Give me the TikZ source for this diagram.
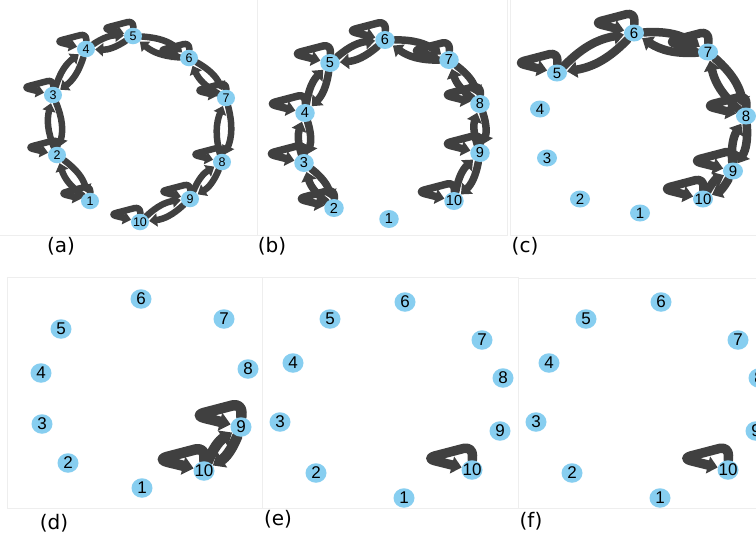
\documentclass[tikz,border=0pt]{standalone}
\usepackage{fontspec}
\setmainfont{Liberation Sans}
\newfontfamily\panelfont{DejaVu Sans}
\usetikzlibrary{arrows.meta,shapes.geometric}
\definecolor{nodeblue}{RGB}{135,206,240}
\definecolor{edgegray}{RGB}{64,64,64}
\definecolor{framegray}{RGB}{238,238,238}
\pgfdeclarelayer{bg}
\pgfdeclarelayer{edges}
\pgfsetlayers{bg,edges,main}

% vertex: style, name, x, y (pixels, downwards), label
\newcommand\putvertex[5]{%
  \node[#1] (#2) at (#3,-#4) {};
  \node[#1 text] at (#2.center) {#5};}
% self loop drawn as a flag: up from the vertex, out to a tip, back in
% args: node, direction of the tip, size, style
\newcommand\selfloop[4]{%
  \draw[#4, rounded corners={0.2*#3}] (#1) -- +({#2-78}:{0.5*#3})
     -- +(#2:{#3}) -- (#1);}

\tikzset{
  vbase/.style={ellipse, fill=nodeblue, inner sep=0pt},
  vA/.style={vbase, minimum width=18pt, minimum height=16.5pt},
  vA text/.style={font=\fontsize{12.5}{12.5}\selectfont, inner sep=0pt},
  vB/.style={vbase, minimum width=19.5pt, minimum height=18pt},
  vB text/.style={font=\fontsize{14.5}{14.5}\selectfont, inner sep=0pt},
  vC/.style={vbase, minimum width=20pt, minimum height=17pt},
  vC text/.style={font=\fontsize{15}{15}\selectfont, inner sep=0pt},
  vD/.style={vbase, minimum width=21pt, minimum height=19.5pt},
  vD text/.style={font=\fontsize{17}{17}\selectfont, inner sep=0pt},
  ebase/.style={draw=edgegray, line cap=round, line join=round},
  eA/.style={ebase, line width=6.5pt, -{Triangle[length=8pt,width=13pt]}},
  eB/.style={ebase, line width=7.5pt, -{Triangle[length=9pt,width=15pt]}},
  eC/.style={ebase, line width=8.5pt, -{Triangle[length=10pt,width=16pt]}},
  eD/.style={ebase, line width=10.5pt, -{Triangle[length=11pt,width=18pt]}},
  eE/.style={ebase, line width=9.5pt, -{Triangle[length=10pt,width=17pt]}},
  frame/.style={draw=framegray, line width=0.8pt},
  paneltag/.style={font=\panelfont\fontsize{20}{20}\selectfont, inner sep=0pt},
}

\begin{document}
\begin{tikzpicture}[x=1pt,y=1pt]
\useasboundingbox (0,0) rectangle (756,-536);
\begin{pgfonlayer}{bg}
  \fill[white] (0,0) rectangle (756,-536);
  \draw[frame] (-1,1) rectangle (257,-235);
  \draw[frame] (257,1) rectangle (507,-235);
  \draw[frame] (510,1) rectangle (760,-235);
  \draw[frame] (7,-277) rectangle (262,-508);
  \draw[frame] (262,-277) rectangle (518,-508);
  \draw[frame] (518,-278) rectangle (760,-508);
\end{pgfonlayer}

% ---------- (a)
\putvertex{vA}{a1}{90}{201}{1}
\putvertex{vA}{a2}{57}{155}{2}
\putvertex{vA}{a3}{53}{95}{3}
\putvertex{vA}{a4}{86}{49}{4}
\putvertex{vA}{a5}{133}{36}{5}
\putvertex{vA}{a6}{189}{58}{6}
\putvertex{vA}{a7}{226}{98}{7}
\putvertex{vA}{a8}{222}{162}{8}
\putvertex{vA}{a9}{190}{199}{9}
\putvertex{vA}{a10}{140}{222}{10}

% ---------- (b)
\putvertex{vB}{b1}{389}{219}{1}
\putvertex{vB}{b2}{334}{208}{2}
\putvertex{vB}{b3}{304}{163}{3}
\putvertex{vB}{b4}{305}{113}{4}
\putvertex{vB}{b5}{330}{63}{5}
\putvertex{vB}{b6}{385}{40}{6}
\putvertex{vB}{b7}{449}{60}{7}
\putvertex{vB}{b8}{480}{104}{8}
\putvertex{vB}{b9}{480}{153}{9}
\putvertex{vB}{b10}{454}{201}{10}

% ---------- (c)
\putvertex{vC}{c1}{640}{213}{1}
\putvertex{vC}{c2}{580}{199}{2}
\putvertex{vC}{c3}{547}{158}{3}
\putvertex{vC}{c4}{540}{109}{4}
\putvertex{vC}{c5}{557}{73}{5}
\putvertex{vC}{c6}{634}{33}{6}
\putvertex{vC}{c7}{708}{52}{7}
\putvertex{vC}{c8}{746}{116}{8}
\putvertex{vC}{c9}{733}{171}{9}
\putvertex{vC}{c10}{703}{199}{10}

% ---------- (d)
\putvertex{vD}{d1}{142}{488}{1}
\putvertex{vD}{d2}{68}{463}{2}
\putvertex{vD}{d3}{42}{424}{3}
\putvertex{vD}{d4}{41}{373}{4}
\putvertex{vD}{d5}{61}{329}{5}
\putvertex{vD}{d6}{141}{299}{6}
\putvertex{vD}{d7}{224}{319}{7}
\putvertex{vD}{d8}{248}{369}{8}
\putvertex{vD}{d9}{241}{427}{9}
\putvertex{vD}{d10}{204}{471}{10}

% ---------- (e)
\putvertex{vD}{e1}{404}{498}{1}
\putvertex{vD}{e2}{316}{473}{2}
\putvertex{vD}{e3}{280}{422}{3}
\putvertex{vD}{e4}{293}{363}{4}
\putvertex{vD}{e5}{330}{319}{5}
\putvertex{vD}{e6}{405}{302}{6}
\putvertex{vD}{e7}{482}{340}{7}
\putvertex{vD}{e8}{503}{378}{8}
\putvertex{vD}{e9}{500}{431}{9}
\putvertex{vD}{e10}{472}{470}{10}

% ---------- (f)
\putvertex{vD}{f1}{660}{498}{1}
\putvertex{vD}{f2}{572}{473}{2}
\putvertex{vD}{f3}{536}{422}{3}
\putvertex{vD}{f4}{549}{363}{4}
\putvertex{vD}{f5}{586}{319}{5}
\putvertex{vD}{f6}{661}{302}{6}
\putvertex{vD}{f7}{738}{340}{7}
\putvertex{vD}{f8}{759}{378}{8}
\putvertex{vD}{f9}{756}{431}{9}
\putvertex{vD}{f10}{728}{470}{10}

% panel tags
\node[paneltag] at (61,-246) {(a)};
\node[paneltag] at (272,-246) {(b)};
\node[paneltag] at (525,-246) {(c)};
\node[paneltag] at (54,-523) {(d)};
\node[paneltag] at (278,-519) {(e)};
\node[paneltag] at (531,-521) {(f)};

\begin{pgfonlayer}{edges}
  % (a): loops everywhere, mutual edges along the chain
  \foreach \i in {1,...,10} {\selfloop{a\i}{166}{31}{eA}}
  \foreach \i [evaluate=\i as \j using int(\i+1)] in {1,...,9} {
    \draw[eA] (a\i) to[bend left=18] (a\j);
    \draw[eA] (a\j) to[bend left=18] (a\i);}
  % (b)
  \foreach \i in {2,...,10} {\selfloop{b\i}{166}{38}{eB}}
  \foreach \i [evaluate=\i as \j using int(\i+1)] in {2,...,9} {
    \draw[eB] (b\i) to[bend left=18] (b\j);
    \draw[eB] (b\j) to[bend left=18] (b\i);}
  % (c)
  \foreach \i in {5,...,10} {\selfloop{c\i}{166}{42}{eC}}
  \foreach \i [evaluate=\i as \j using int(\i+1)] in {5,...,9} {
    \draw[eC] (c\i) to[bend left=18] (c\j);
    \draw[eC] (c\j) to[bend left=18] (c\i);}
  % (d)
  \selfloop{d9}{166}{48}{eD}
  \selfloop{d10}{166}{48}{eD}
  \draw[eD] (d9) to[bend left=18] (d10);
  \draw[eD] (d10) to[bend left=18] (d9);
  % (e), (f)
  \selfloop{e10}{166}{48}{eE}
  \selfloop{f10}{166}{48}{eE}
\end{pgfonlayer}
\end{tikzpicture}
\end{document}
